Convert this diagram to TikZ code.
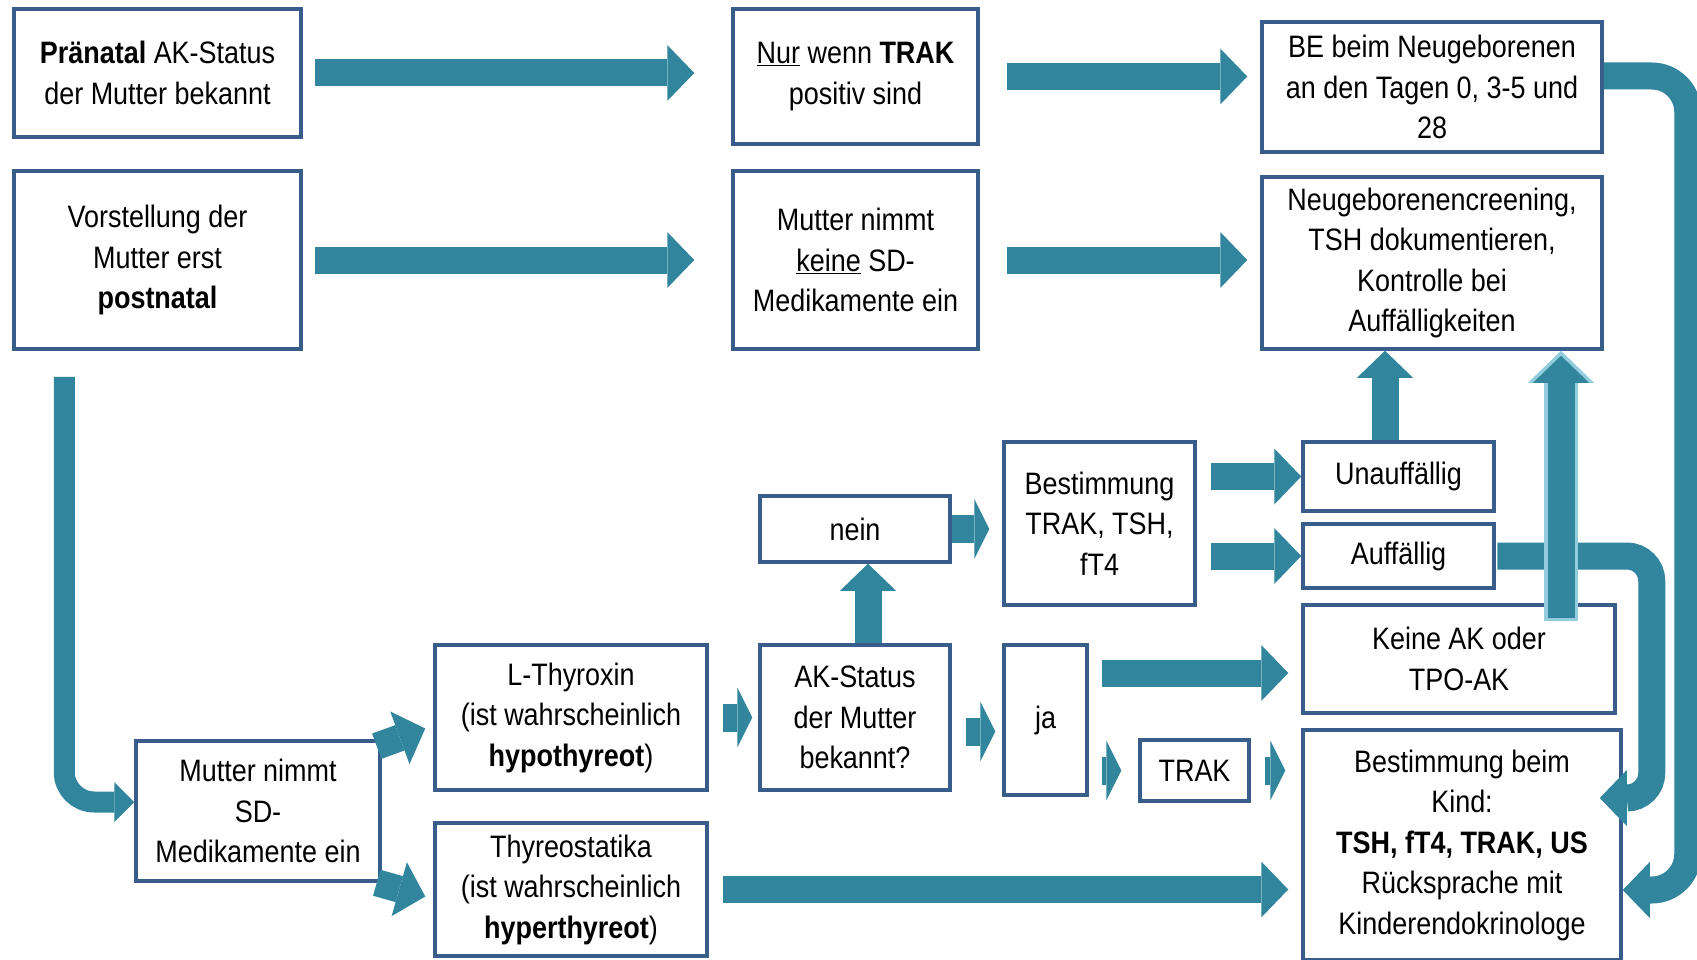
\documentclass[tikz,border=0pt]{standalone}
\usepackage{fontspec}
\setmainfont[FakeStretch=0.87]{Liberation Sans}
\usetikzlibrary{positioning,arrows.meta,calc}
\definecolor{teal1}{HTML}{31859C}
\definecolor{bxblue}{HTML}{385D8A}
\definecolor{ltblue}{HTML}{93CDDD}
\newcommand{\bxfont}{\fontsize{31}{40.5}\selectfont}
\tikzset{
  box/.style={draw=bxblue,line width=3.5pt,fill=white,align=center,inner sep=0pt,font=\bxfont},
  blk/.style={draw=teal1,line width=27pt,-{Triangle[length=27pt,width=56pt,line width=0pt]}},
  sblk/.style={draw=teal1,line width=28pt,-{Triangle[length=15pt,width=60pt,line width=0pt]}},
  lblk/.style={draw=teal1,line width=21pt,-{Triangle[length=20pt,width=40pt,line width=0pt]}},
  ltout/.style={draw=ltblue,line width=34pt,-{Triangle[length=32pt,width=66pt,line width=0pt]}},
}
\begin{document}
\begin{tikzpicture}[x=1pt,y=-1pt]
  \useasboundingbox (0,0) rectangle (1697,960);
  % top rows
  \node[box,minimum width=287pt,minimum height=128pt] (A) at (157.5,73)
    {\textbf{Pränatal} AK-Status\\der Mutter bekannt};
  \node[box,minimum width=287pt,minimum height=178pt] (B) at (157.5,260)
    {Vorstellung der\\Mutter erst\\\textbf{postnatal}};
  \node[box,minimum width=245pt,minimum height=135pt] (C) at (855.5,76.5)
    {\underline{Nur} wenn \textbf{TRAK}\\positiv sind};
  \node[box,minimum width=245pt,minimum height=178pt] (D) at (855.5,260)
    {Mutter nimmt\\\underline{keine} SD-\\Medikamente ein};
  \node[box,minimum width=340pt,minimum height=130pt] (E) at (1432,87)
    {BE beim Neugeborenen\\an den Tagen 0, 3-5 und\\28};
  \node[box,minimum width=340pt,minimum height=172pt] (F) at (1432,263)
    {Neugeborenencreening,\\TSH dokumentieren,\\Kontrolle bei\\Auffälligkeiten};
  % lower part
  \node[box,minimum width=191pt,minimum height=163pt] (G) at (1099.5,523.5)
    {Bestimmung\\TRAK, TSH,\\fT4};
  \node[box,minimum width=190pt,minimum height=66pt] (H) at (855,529) {nein};
  \node[box,minimum width=191pt,minimum height=69pt] (I) at (1398.5,476.5) {Unauffällig};
  \node[box,minimum width=191pt,minimum height=64pt] (J) at (1398.5,556) {Auffällig};
  \node[box,minimum width=312pt,minimum height=108pt] (K) at (1459,659)
    {Keine AK oder\\TPO-AK};
  \node[box,minimum width=318pt,minimum height=230pt] (L) at (1462,845)
    {Bestimmung beim\\Kind:\\\textbf{TSH, fT4, TRAK, US}\\Rücksprache mit\\Kinderendokrinologe};
  \node[box,minimum width=190pt,minimum height=145pt] (M) at (855,717.5)
    {AK-Status\\der Mutter\\bekannt?};
  \node[box,minimum width=83pt,minimum height=150pt] (N) at (1045.5,720) {ja};
  \node[box,minimum width=109pt,minimum height=61pt] (O) at (1194.5,770.5) {TRAK};
  \node[box,minimum width=272pt,minimum height=145pt] (P) at (571,717.5)
    {L-Thyroxin\\(ist wahrscheinlich\\\textbf{hypothyreot})};
  \node[box,minimum width=272pt,minimum height=133pt] (Q) at (571,889.5)
    {Thyreostatika\\(ist wahrscheinlich\\\textbf{hyperthyreot})};
  \node[box,minimum width=244pt,minimum height=140pt] (R) at (258,811)
    {Mutter nimmt\\SD-\\Medikamente ein};

  % arrows, top rows
  \draw[blk,shorten <=12pt,shorten >=37pt] (A.east) -- (A.east -| C.west);
  \draw[blk,shorten <=27pt,shorten >=13pt] (C.east) -- (C.east -| E.west);
  \draw[blk,shorten <=12pt,shorten >=37pt] (B.east) -- (B.east -| D.west);
  \draw[blk,shorten <=27pt,shorten >=13pt] (D.east) -- (D.east -| F.west);
  % loops on the right
  \coordinate (eb) at ([yshift=-45pt]L.east);
  \draw[blk,rounded corners=36pt] ([yshift=11pt]E.east) -| ([xshift=65pt]eb) -- (eb);
  \coordinate (jb) at ([xshift=-23pt,yshift=47pt]L.east);
  \draw[blk,rounded corners=25pt,shorten <=1.5pt] (J.east) -| ([xshift=52pt]jb) -- (jb);
  % up into the screening box
  \coordinate (kb) at ([xshift=102pt,yshift=-15pt]K.north);
  \draw[ltout,shorten <=-3pt] (kb) -- (kb |- F.south);
  \draw[blk,shorten >=5pt] (kb) -- (kb |- F.south);
  \coordinate (iu) at ([xshift=-13.5pt]I.north);
  \draw[blk] (iu) -- (iu |- F.south);
  % middle
  \draw[blk,shorten <=14pt] (G.east |- I.west) -- (I.west);
  \draw[blk,shorten <=14pt] (G.east |- J.west) -- (J.west);
  \draw[sblk,shorten >=13pt] (H.east) -- (H.east -| G.west);
  \coordinate (mu) at ([xshift=13pt]M.north);
  \draw[blk] (mu) -- (mu |- H.south);
  \draw[sblk,shorten <=14pt,shorten >=6pt] (P.east) -- (P.east -| M.west);
  \coordinate (mr) at ([yshift=-14pt]M.east);
  \draw[sblk,shorten <=14pt,shorten >=7pt] (mr) -- (mr -| N.west);
  \coordinate (nk) at ([yshift=-14pt]K.west);
  \draw[blk,shorten <=13pt,shorten >=13pt] (nk -| N.east) -- (nk);
  \draw[sblk,shorten <=13pt,shorten >=17pt] (N.east |- O.west) -- (O.west);
  \draw[sblk,shorten <=14pt,shorten >=16pt] (O.east) -- (O.east -| L.west);
  \draw[blk,shorten <=14pt,shorten >=13pt] (Q.east) -- (Q.east -| L.west);
  % left branch
  \draw[lblk,rounded corners=30pt] ([xshift=52pt,yshift=-26pt]B.south west) |- ([yshift=9pt]R.west);
  \draw[blk] ([xshift=-5pt,yshift=-7pt]R.north east) -- ([xshift=-8pt,yshift=-11pt]P.west);
  \draw[blk] ([xshift=-5pt]R.south east) -- ([xshift=-8pt,yshift=-7pt]Q.west);
\end{tikzpicture}
\end{document}
